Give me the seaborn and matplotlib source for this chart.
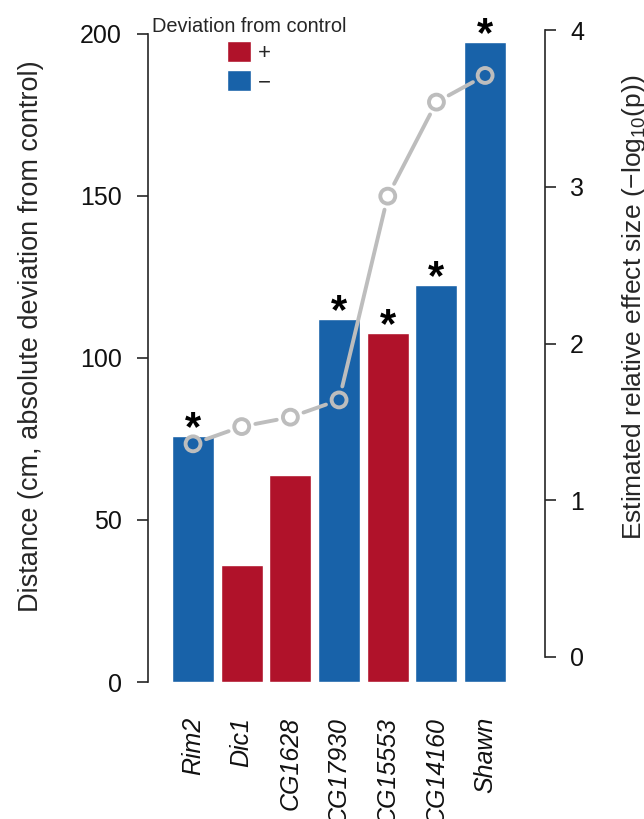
import matplotlib
matplotlib.use("Agg")
import matplotlib.pyplot as plt
from matplotlib.patches import Patch
import pandas as pd
import seaborn as sns

# --- data ---
genes = ["Rim2", "Dic1", "CG1628", "CG17930", "CG15553", "CG14160", "Shawn"]
distance = [76, 36, 64, 112, 107.6, 122.4, 197.6]
direction = ["-", "+", "+", "-", "+", "-", "-"]
effect_size = [1.36, 1.47, 1.53, 1.64, 2.94, 3.54, 3.71]
significant = [True, False, False, True, True, True, True]

RED = "#B0122A"
BLUE = "#1862A9"
GREY = "#BDBDBD"

df = pd.DataFrame({"gene": genes, "distance": distance, "direction": direction,
                   "effect": effect_size, "sig": significant})

sns.set_theme(style="ticks")
plt.rcParams["font.family"] = ["Liberation Sans", "DejaVu Sans"]
plt.rcParams["mathtext.fontset"] = "custom"
plt.rcParams["mathtext.rm"] = "Liberation Sans"

W, H = 644, 819
fig = plt.figure(figsize=(W / 100, H / 100), dpi=100)
# axes box in pixels: x 148..545, y 30..682 (from top)
ax = fig.add_axes([148 / W, 1 - 682 / H, (545 - 148) / W, (682 - 30) / H])

sns.barplot(data=df, x="gene", y="distance", hue="direction",
            palette={"+": RED, "-": BLUE}, dodge=False, width=0.865,
            legend=False, saturation=1, ax=ax)

ax.set_xlim(-0.925, 7.23)
ax.set_ylim(0, 201.2)
ax.set_yticks([0, 50, 100, 150, 200])
ax.spines["left"].set_bounds(0, 200)
ax.spines["left"].set_linewidth(1.2)
for s in ["top", "right", "bottom"]:
    ax.spines[s].set_visible(False)
ax.tick_params(axis="y", direction="out", length=8, width=1.2, labelsize=18, pad=11,
               labelcolor="#111111")
ax.tick_params(axis="x", length=0, pad=25)
ax.set_xticks(range(len(genes)))
ax.set_xticklabels(genes, rotation=90, fontstyle="italic", fontsize=18, va="top",
                   ha="center", color="#111111")
ax.set_xlabel("")
ax.set_ylabel("Distance (cm, absolute deviation from control)", fontsize=19.5)
ax.yaxis.set_label_coords(-0.262, 0.53)

# significance stars
for i, (d, s) in enumerate(zip(distance, significant)):
    if s:
        ax.annotate("*", xy=(i, d), xytext=(0, -3), textcoords="offset points",
                    ha="center", va="baseline", fontsize=30, fontweight="bold",
                    color="black", annotation_clip=False)

# right axis: effect size
ax2 = ax.twinx()
ax2.set_ylim(-25 / 156.75, 4)
ax2.set_yticks([0, 1, 2, 3, 4])
for s in ["top", "left", "bottom"]:
    ax2.spines[s].set_visible(False)
ax2.spines["right"].set_bounds(0, 4)
ax2.spines["right"].set_linewidth(1.2)
ax2.tick_params(axis="y", direction="out", length=8, width=1.2, labelsize=18, pad=10,
                labelcolor="#111111")
ax2.set_ylabel(r"Estimated relative effect size ($-$log$_{10}$(p))", fontsize=19,
               rotation=90)
ax2.yaxis.set_label_coords(1.19, 0.575)

# line segments with gaps around points
for i in range(len(genes) - 1):
    ax2.annotate("", xy=(i + 1, effect_size[i + 1]), xytext=(i, effect_size[i]),
                 arrowprops=dict(arrowstyle="-", color=GREY, lw=2.8,
                                 shrinkA=10, shrinkB=10))
sns.scatterplot(x=list(range(len(genes))), y=effect_size, ax=ax2, s=115,
                facecolor="none", edgecolor=GREY, linewidth=2.8, zorder=5)

# legend
handles = [Patch(facecolor=RED, label="+"), Patch(facecolor=BLUE, label="\u2212")]
leg = fig.legend(handles=handles, title="Deviation from control", loc="upper center",
                 bbox_to_anchor=(249 / W, 1 - 1 / H), frameon=False, fontsize=16,
                 title_fontsize=14.4, handlelength=1.1, handleheight=1.1,
                 handletextpad=0.3, labelspacing=0.25, borderpad=0.2)

fig.savefig("out.png", dpi=100)
